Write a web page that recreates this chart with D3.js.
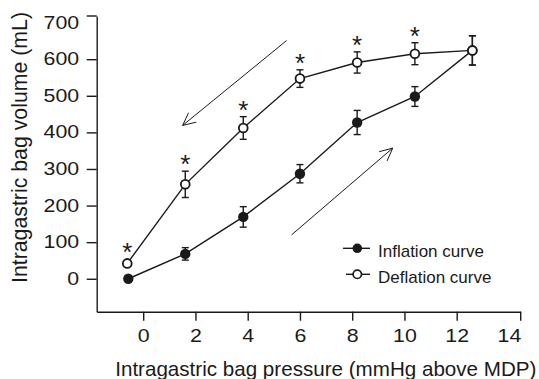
<!DOCTYPE html>
<html>
<head>
<meta charset="utf-8">
<script src="https://cdn.jsdelivr.net/npm/d3@7"></script>
<style>
  html, body { margin: 0; padding: 0; background: #fff; }
  svg { display: block; }
  text { font-family: "Liberation Sans", Arial, Helvetica, sans-serif; fill: #1a1a1a; }
</style>
</head>
<body>
<svg id="chart" width="539" height="379"></svg>
<script>
// ---- data ----
const pressureInflation = [-0.57, 1.61, 3.83, 6.0, 8.19, 10.4, 12.6];
const volumeInflation   = [0, 68, 169, 287, 427, 498, 624];
const errorInflation    = [0, 17, 28, 25, 33, 27, 40];

const pressureDeflation = [-0.61, 1.61, 3.83, 6.0, 8.19, 10.4, 12.6];
const volumeDeflation   = [42, 258, 412, 547, 591, 615, 624];
const errorDeflation    = [0, 36, 31, 24, 29, 30, 40];
const significant       = [true, true, true, true, true, true, false];

const xTicks = [0, 2, 4, 6, 8, 10, 12, 14];
const yTicks = [0, 100, 200, 300, 400, 500, 600, 700];

const seriesNames = ["Inflation curve", "Deflation curve"];
const xTitle = "Intragastric bag pressure (mmHg above MDP)";
const yTitle = "Intragastric bag volume (mL)";

// direction arrows (annotation, in data units)
const arrowDeflation = { from: [5.49, 651], to: [1.51, 419] };
const arrowInflation = { from: [5.68, 120], to: [9.55, 357] };

// ---- layout ----
const svg = d3.select("#chart");
const ink = "#1a1a1a";
const x = d3.scaleLinear().domain([-1.78, 14.45]).range([96.7, 520.7]);
const y = d3.scaleLinear().domain([-90, 718]).range([311.7, 16]);
const stretch = 1.22;

// x axis
const gx = svg.append("g").attr("transform", `translate(0,${y.range()[0]})`)
  .call(d3.axisBottom(x).tickValues(xTicks).tickSize(9).tickSizeOuter(0).tickPadding(9));
gx.select(".domain").attr("stroke", ink).attr("stroke-width", 1.4);
gx.selectAll(".tick line").attr("stroke", ink).attr("stroke-width", 1.4)
  .filter(d => d === 14).remove();
gx.selectAll(".tick text").attr("font-size", 17.5).attr("fill", ink)
  .attr("font-family", '"Liberation Sans", Arial, sans-serif')
  .attr("transform", `scale(${stretch},1)`);
gx.append("line").attr("x1", x.range()[1]).attr("x2", x.range()[1])
  .attr("y1", 0).attr("y2", 9).attr("stroke", ink).attr("stroke-width", 1.4);

// y axis
const gy = svg.append("g").attr("transform", `translate(${x.range()[0]},0)`)
  .call(d3.axisLeft(y).tickValues(yTicks).tickSize(10).tickSizeOuter(0).tickPadding(7.5));
gy.select(".domain").attr("stroke", ink).attr("stroke-width", 1.4);
gy.selectAll(".tick line").attr("stroke", ink).attr("stroke-width", 1.4)
  .filter(d => d === 700).remove();
gy.selectAll(".tick text").attr("font-size", 17.5).attr("fill", ink)
  .attr("font-family", '"Liberation Sans", Arial, sans-serif')
  .attr("x", -17.5 / stretch)
  .attr("transform", `scale(${stretch},1)`);
gy.append("line").attr("x1", -10).attr("x2", 0)
  .attr("y1", y.range()[1]).attr("y2", y.range()[1]).attr("stroke", ink).attr("stroke-width", 1.4);

// axis titles
svg.append("text").attr("x", 325.8).attr("y", 375.5).attr("text-anchor", "middle")
  .attr("font-size", 20.6).text(xTitle);
svg.append("text").attr("transform", "translate(27,147.5) rotate(-90)")
  .attr("text-anchor", "middle").attr("font-size", 21.3).text(yTitle);

// arrows
function drawArrow(a) {
  const x1 = x(a.from[0]), y1 = y(a.from[1]), x2 = x(a.to[0]), y2 = y(a.to[1]);
  svg.append("line").attr("x1", x1).attr("y1", y1).attr("x2", x2).attr("y2", y2)
    .attr("stroke", ink).attr("stroke-width", 1);
  const ang = Math.atan2(y1 - y2, x1 - x2), L = 14, spread = 0.45;
  const p = d3.path();
  p.moveTo(x2 + L * Math.cos(ang + spread), y2 + L * Math.sin(ang + spread));
  p.lineTo(x2, y2);
  p.lineTo(x2 + L * Math.cos(ang - spread), y2 + L * Math.sin(ang - spread));
  svg.append("path").attr("d", p.toString()).attr("fill", "none")
    .attr("stroke", ink).attr("stroke-width", 1);
}
drawArrow(arrowDeflation);
drawArrow(arrowInflation);

// series
const infl = pressureInflation.map((p, i) => ({ p, v: volumeInflation[i], e: errorInflation[i] }));
const defl = pressureDeflation.map((p, i) => ({ p, v: volumeDeflation[i], e: errorDeflation[i], s: significant[i] }));
const line = d3.line().x(d => x(d.p)).y(d => y(d.v));

[infl, defl].forEach(data => {
  svg.append("path").datum(data).attr("d", line).attr("fill", "none")
    .attr("stroke", ink).attr("stroke-width", 1.4);
});

function errorBars(data) {
  const g = svg.append("g").attr("stroke", ink).attr("stroke-width", 1.4);
  data.filter(d => d.e > 0).forEach(d => {
    const cx = x(d.p);
    g.append("line").attr("x1", cx).attr("x2", cx).attr("y1", y(d.v + d.e)).attr("y2", y(d.v - d.e));
    g.append("line").attr("x1", cx - 3.5).attr("x2", cx + 3.5).attr("y1", y(d.v + d.e)).attr("y2", y(d.v + d.e));
    g.append("line").attr("x1", cx - 3.5).attr("x2", cx + 3.5).attr("y1", y(d.v - d.e)).attr("y2", y(d.v - d.e));
  });
}
errorBars(infl);
errorBars(defl);

svg.append("g").selectAll("circle").data(infl).join("circle")
  .attr("cx", d => x(d.p)).attr("cy", d => y(d.v)).attr("r", 5.2).attr("fill", ink);
svg.append("g").selectAll("circle").data(defl).join("circle")
  .attr("cx", d => x(d.p)).attr("cy", d => y(d.v)).attr("r", 4.4)
  .attr("fill", "#fff").attr("stroke", ink).attr("stroke-width", 1.8);

// significance asterisks
svg.append("g").selectAll("text").data(defl.filter(d => d.s)).join("text")
  .attr("x", d => x(d.p))
  .attr("y", d => Math.min(y(d.v) - 4.5, y(d.v + d.e)) - 13 + 15)
  .attr("text-anchor", "middle").attr("font-size", 26).text("*");

// legend
const legend = svg.append("g");
const legendRows = [
  { name: seriesNames[0], filled: true, cy: 248.3, x0: 343 },
  { name: seriesNames[1], filled: false, cy: 274.3, x0: 346 }
];
legendRows.forEach(r => {
  legend.append("line").attr("x1", r.x0).attr("x2", 370).attr("y1", r.cy).attr("y2", r.cy)
    .attr("stroke", ink).attr("stroke-width", 1.4);
  if (r.filled) {
    legend.append("circle").attr("cx", 357.3).attr("cy", r.cy).attr("r", 4.8).attr("fill", ink);
  } else {
    legend.append("circle").attr("cx", 357.3).attr("cy", r.cy).attr("r", 4.2)
      .attr("fill", "#fff").attr("stroke", ink).attr("stroke-width", 1.7);
  }
  legend.append("text").attr("x", 378).attr("y", r.cy + 3).attr("dy", "0.33em")
    .attr("font-size", 17).text(r.name);
});
</script>
</body>
</html>
